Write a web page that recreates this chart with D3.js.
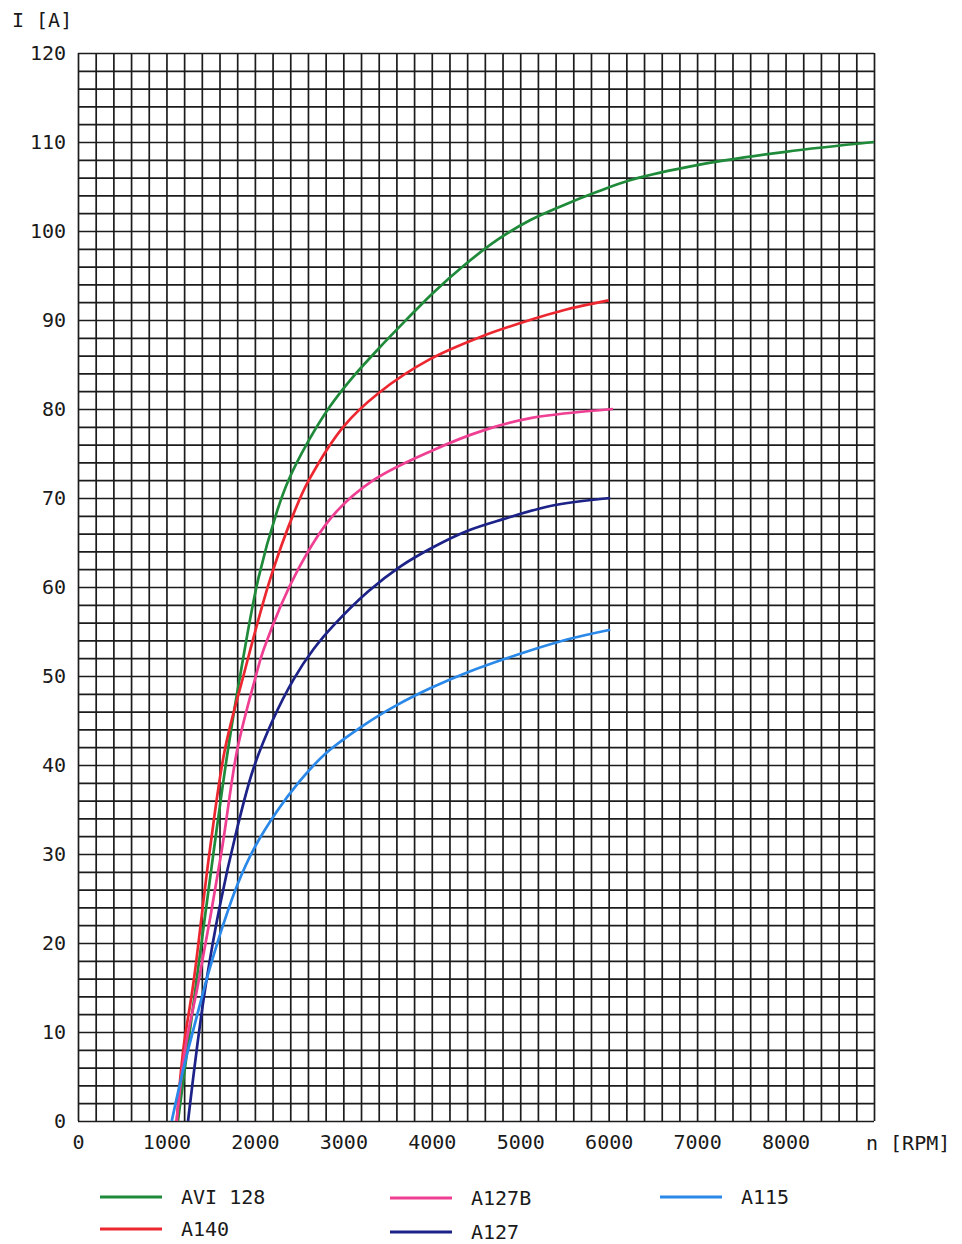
<!DOCTYPE html>
<html>
<head>
<meta charset="utf-8">
<script src="https://cdn.jsdelivr.net/npm/d3@7"></script>
<style>
  body { margin: 0; background: #fff; }
  text { font-family: "DejaVu Sans Mono", monospace; fill: #1a1a1a; }
</style>
</head>
<body>
<svg id="chart" width="962" height="1244"></svg>
<script>
// values: [rpm, current A]
var avi128 = [[1130,0],[1330,15],[1530,30],[1700,42],[1850,51],[2040,61],[2250,68.5],[2380,72],[2600,76.3],[2850,80.3],[3100,83.5],[3400,86.8],[3700,89.9],[4020,93.1],[4360,96.1],[4740,99],[5110,101.2],[5490,102.9],[5870,104.4],[6240,105.7],[7000,107.4],[8000,108.9],[9000,110]];
var a140 = [[1116,0],[1190,8],[1305,15.5],[1490,30.4],[1660,41.7],[1870,50],[2170,60.8],[2440,68.3],[2610,72],[3000,78],[3400,81.8],[3980,85.6],[4550,88.1],[5110,90],[5490,91.1],[6000,92.2]];
var a127b = [[1116,0],[1210,8],[1360,15.5],[1625,30.4],[1800,41.7],[2000,49.6],[2100,53],[2490,62],[2880,68],[3340,72],[4020,75.4],[4585,77.6],[5130,79],[6050,80]];
var a127 = [[1244,0],[1342,8],[1448,15.5],[1600,24],[1790,32.5],[1980,39.5],[2200,45],[2436,49.6],[2662,53],[2900,55.8],[3280,59.5],[3643,62.3],[4020,64.5],[4400,66.3],[4800,67.6],[5340,69.1],[6018,70]];
var a115 = [[1060,0],[1195,6],[1350,12],[1480,16.8],[1640,22],[1800,26.5],[1990,30.6],[2250,34.8],[2500,38.1],[2800,41.3],[3250,44.6],[3600,46.7],[4000,48.7],[4400,50.4],[5000,52.5],[5530,54.1],[6018,55.2]];

var seriesNames = ["AVI 128", "A140", "A127B", "A127", "A115"];
var seriesData = [avi128, a140, a127b, a127, a115];
var seriesColors = ["#1f8a3a", "#ec2730", "#ee3f92", "#1c2287", "#2a88e8"];

var xTicks = [0, 1000, 2000, 3000, 4000, 5000, 6000, 7000, 8000];
var yTicks = [0, 10, 20, 30, 40, 50, 60, 70, 80, 90, 100, 110, 120];

var svg = d3.select("#chart");

var x = d3.scaleLinear().domain([0, 9000]).range([78, 874]);
var y = d3.scaleLinear().domain([0, 120]).range([1121, 53]);

var plotW = x(9000) - x(0),
    plotH = y(0) - y(120);

// grid (every 200 rpm / 2 A)
svg.append("g")
    .attr("transform", "translate(0," + y(0) + ")")
    .call(d3.axisBottom(x).tickValues(d3.range(0, 9001, 200)).tickSize(-plotH).tickFormat(""));
svg.append("g")
    .attr("transform", "translate(" + x(0) + ",0)")
    .call(d3.axisLeft(y).tickValues(d3.range(0, 121, 2)).tickSize(-plotW).tickFormat(""));
svg.selectAll(".domain").remove();
svg.selectAll(".tick line")
    .attr("stroke", "#1c1c1c")
    .attr("stroke-width", 1.7);

// tick labels
svg.append("g")
    .attr("transform", "translate(0," + y(0) + ")")
    .call(d3.axisBottom(x).tickValues(xTicks).tickSize(0).tickPadding(14).tickFormat(d3.format("d")))
    .call(function(g) { g.select(".domain").remove(); })
    .selectAll("text")
    .style("font-family", "DejaVu Sans Mono")
    .style("font-size", "20px")
    .attr("fill", "#1a1a1a");

svg.append("g")
    .attr("transform", "translate(" + (x(0) - 12) + ",0)")
    .call(d3.axisLeft(y).tickValues(yTicks).tickSize(0).tickPadding(0).tickFormat(d3.format("d")))
    .call(function(g) { g.select(".domain").remove(); })
    .selectAll("text")
    .style("font-family", "DejaVu Sans Mono")
    .style("font-size", "20px")
    .attr("fill", "#1a1a1a");

// axis titles
svg.append("text").attr("x", 12).attr("y", 27).style("font-size", "20px").text("I [A]");
svg.append("text").attr("x", 866).attr("y", 1150).style("font-size", "20px").text("n [RPM]");

// curves
var line = d3.line()
    .x(function(d) { return x(d[0]); })
    .y(function(d) { return y(d[1]); })
    .curve(d3.curveCatmullRom.alpha(0.5));

svg.append("g").selectAll("path")
    .data(seriesData)
    .enter()
    .append("path")
    .attr("d", line)
    .attr("fill", "none")
    .attr("stroke", function(d, i) { return seriesColors[i]; })
    .attr("stroke-width", 2.7)
    .attr("stroke-linejoin", "round");

// legend
var legendPos = [[100, 1197], [100, 1229], [390, 1198], [390, 1232], [660, 1197]];
var lg = svg.append("g").selectAll("g")
    .data(seriesNames)
    .enter()
    .append("g")
    .attr("transform", function(d, i) { return "translate(" + legendPos[i][0] + "," + legendPos[i][1] + ")"; });
lg.append("line")
    .attr("x1", 0).attr("x2", 62)
    .attr("stroke", function(d, i) { return seriesColors[i]; })
    .attr("stroke-width", 3);
lg.append("text")
    .attr("x", 81).attr("y", 7)
    .style("font-size", "20px")
    .text(function(d) { return d; });
</script>
</body>
</html>
